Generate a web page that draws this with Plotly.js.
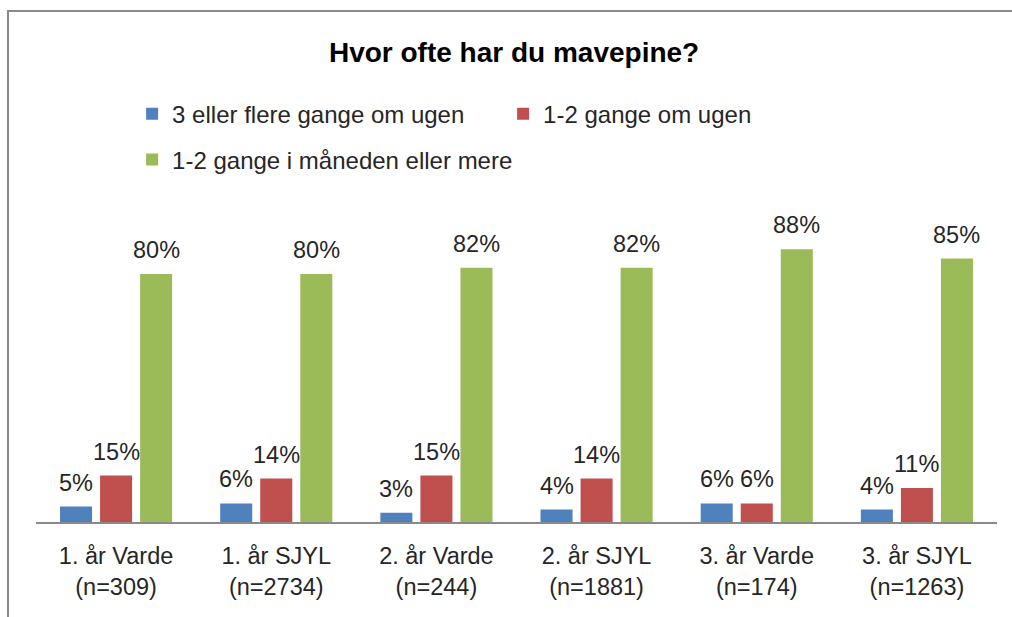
<!DOCTYPE html>
<html>
<head>
<meta charset="utf-8">
<script src="https://cdn.plot.ly/plotly-3.0.1.min.js"></script>
<style>
html,body{margin:0;padding:0;background:#fff;overflow:hidden;width:1012px;height:617px;}
#wrap{position:relative;width:1012px;height:617px;overflow:hidden;}
#chart{width:1012px;height:617px;position:absolute;left:0;top:0;}
#topline{position:absolute;left:7px;top:10px;width:1100px;height:2px;background:#8a8a8a;pointer-events:none;z-index:5;}
#leftline{position:absolute;left:7px;top:10px;width:2px;height:700px;background:#8a8a8a;pointer-events:none;z-index:5;}
#cover{position:absolute;left:999px;top:12px;width:20px;height:620px;background:#fff;pointer-events:none;z-index:4;}
</style>
</head>
<body>
<div id="wrap"><div id="chart"></div><div id="cover"></div><div id="topline"></div><div id="leftline"></div></div>
<script>
var categories = ["1. år Varde<br>(n=309)", "1. år SJYL<br>(n=2734)", "2. år Varde<br>(n=244)", "2. år SJYL<br>(n=1881)", "3. år Varde<br>(n=174)", "3. år SJYL<br>(n=1263)"];
var seriesNames = ["3 eller flere gange om ugen", "1-2 gange om ugen", "1-2 gange i måneden eller mere"];
var s1 = [0.05, 0.06, 0.03, 0.04, 0.06, 0.04];
var s2 = [0.15, 0.14, 0.15, 0.14, 0.06, 0.11];
var s3 = [0.80, 0.80, 0.82, 0.82, 0.88, 0.85];
var colors = ["#4F81BD", "#C0504D", "#9BBB59"];

var FONT = "'Liberation Sans', Arial, sans-serif";
var TXT = "#262626";
var series = [s1, s2, s3];
var legends = ["legend", "legend", "legend2"];

var data = series.map(function(vals, i) {
  return {
    type: "bar", x: categories, y: vals, name: seriesNames[i],
    marker: {color: colors[i]},
    legend: legends[i], hoverinfo: "x+y"
  };
});

// data labels: placed through the axes at each bar's value, shifted to the bar's slot in the group
var W = 1012, H = 617, M = {l: 36, r: 15, t: 212, b: 95};
var bargap = 0.25;
var slotPx = (W - M.l - M.r) / categories.length * (1 - bargap) / series.length;
var annotations = [];
series.forEach(function(vals, i) {
  vals.forEach(function(v, j) {
    annotations.push({
      x: categories[j], y: v, xref: "x", yref: "y",
      text: Math.round(v * 100) + "%", showarrow: false,
      xanchor: "center", yanchor: "bottom",
      xshift: (i - (series.length - 1) / 2) * slotPx, yshift: 9,
      font: {family: FONT, size: 23.5, color: TXT}
    });
  });
});

var layout = {
  width: W, height: H,
  margin: M,
  paper_bgcolor: "#ffffff", plot_bgcolor: "#ffffff",
  font: {family: FONT, color: TXT},
  title: {text: "<b>Hvor ofte har du mavepine?</b>", font: {family: FONT, size: 28, color: "#000000"}, x: 0.508, xanchor: "center", y: 0.915, yanchor: "middle"},
  barmode: "group", bargap: bargap, bargroupgap: 0.2,
  showlegend: true,
  legend: {orientation: "h", x: 0.1, xanchor: "left", y: 1.316, yanchor: "middle", font: {family: FONT, size: 24, color: TXT}, entrywidth: 326, entrywidthmode: "pixels", bgcolor: "rgba(0,0,0,0)"},
  legend2: {orientation: "h", x: 0.1, xanchor: "left", y: 1.168, yanchor: "middle", font: {family: FONT, size: 24, color: TXT}, bgcolor: "rgba(0,0,0,0)"},
  annotations: annotations,
  xaxis: {showline: true, linecolor: "#8a8a8a", linewidth: 2, ticks: "", ticklabelstandoff: 12, tickfont: {family: FONT, size: 23.5, color: TXT}, showgrid: false, zeroline: false, fixedrange: true},
  yaxis: {range: [0, 1], visible: false, showgrid: false, zeroline: false, fixedrange: true}
};
Plotly.newPlot("chart", data, layout, {displayModeBar: false, staticPlot: true});
</script>
</body>
</html>
